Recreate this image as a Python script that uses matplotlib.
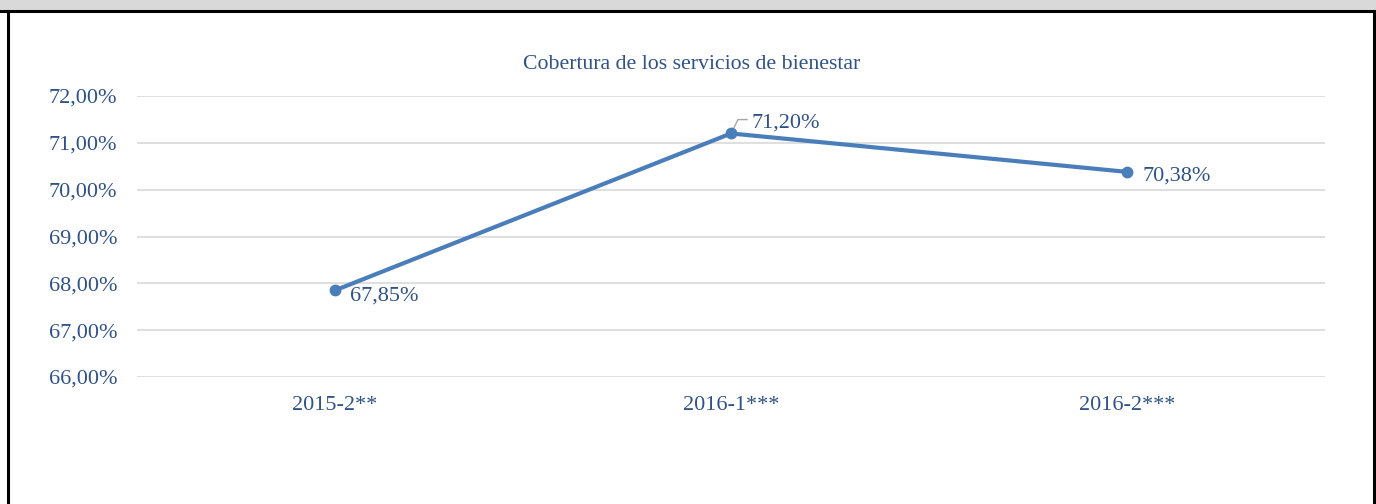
import matplotlib
matplotlib.use("Agg")
import matplotlib.pyplot as plt
from matplotlib.patches import Rectangle
from matplotlib.lines import Line2D
import matplotlib.transforms as mtransforms

categories = ["2015-2**", "2016-1***", "2016-2***"]
values = [67.85, 71.20, 70.38]
value_labels = ["67,85%", "71,20%", "70,38%"]
yticks = [66, 67, 68, 69, 70, 71, 72]
ytick_labels = ["66,00%", "67,00%", "68,00%", "69,00%", "70,00%", "71,00%", "72,00%"]
title = "Cobertura de los servicios de bienestar"

W, H = 1376, 504
fig = plt.figure(figsize=(W / 100, H / 100), dpi=100)
plt.rcParams['font.family'] = ['Liberation Serif', 'DejaVu Serif']

text_color = "#2f5289"
line_color = "#4a7ebb"
fs = 16

# header band and borders
fig.patches.append(Rectangle((0, 1 - 10.5 / H), 1, 10.5 / H, transform=fig.transFigure,
                             facecolor="#d9d9d9", edgecolor="none", zorder=0))
fig.lines.append(Line2D([0, 1], [1 - 10.5 / H, 1 - 10.5 / H], transform=fig.transFigure,
                        color="black", lw=2.2))
fig.lines.append(Line2D([8 / W, 8 / W], [0, 1 - 10.5 / H], transform=fig.transFigure,
                        color="black", lw=2.2))
fig.lines.append(Line2D([1373.5 / W, 1373.5 / W], [0, 1 - 10.5 / H], transform=fig.transFigure,
                        color="black", lw=2.2))

left, right = 137 / W, 1325 / W
top_px, bot_px = 96, 377
ax = fig.add_axes([left, 1 - bot_px / H, right - left, (bot_px - top_px) / H])
x = list(range(len(categories)))
ax.plot(x, values, color=line_color, lw=3, marker="o", ms=7.5, solid_capstyle="round", zorder=3)
ax.set_xlim(-0.5, len(categories) - 0.5)
ax.set_ylim(66, 72)
ax.set_yticks(yticks)
ax.set_yticklabels(ytick_labels, va="center_baseline")
ax.set_xticks(x)
ax.set_xticklabels(categories)
ax.tick_params(axis="both", length=0, labelsize=fs, labelcolor=text_color)
ax.tick_params(axis="y", pad=14.4)
ax.tick_params(axis="x", pad=14)
ax.grid(axis="y", color="#d9d9d9", lw=1.2)
for s in ax.spines.values():
    s.set_visible(False)
ax.set_axisbelow(True)

# data labels
ax.annotate(value_labels[0], (x[0], values[0]), xytext=(10.8, -2.2), textcoords="offset points",
            ha="left", va="center_baseline", fontsize=fs, color=text_color)
ax.annotate(value_labels[1], (x[1], values[1]), xytext=(15, 9.6), textcoords="offset points",
            ha="left", va="center_baseline", fontsize=fs, color=text_color)
# leader line for middle label (in points, relative to the data point)
pts_x = [2.2, 5.0, 11.5]
pts_y = [4.3, 10.0, 10.0]
lead = Line2D([p / 72.0 for p in pts_x], [p / 72.0 for p in pts_y], color="#a6a6a6", lw=1.0,
              transform=fig.dpi_scale_trans + mtransforms.ScaledTranslation(x[1], values[1], ax.transData),
              zorder=2)
ax.add_line(lead)
ax.annotate(value_labels[2], (x[2], values[2]), xytext=(10.8, -1.2), textcoords="offset points",
            ha="left", va="center_baseline", fontsize=fs, color=text_color)

fig.text(692 / W, 1 - 62 / H, title, ha="center", va="center_baseline", fontsize=15.7, color=text_color)

fig.savefig("out.png", dpi=100, facecolor="white")
